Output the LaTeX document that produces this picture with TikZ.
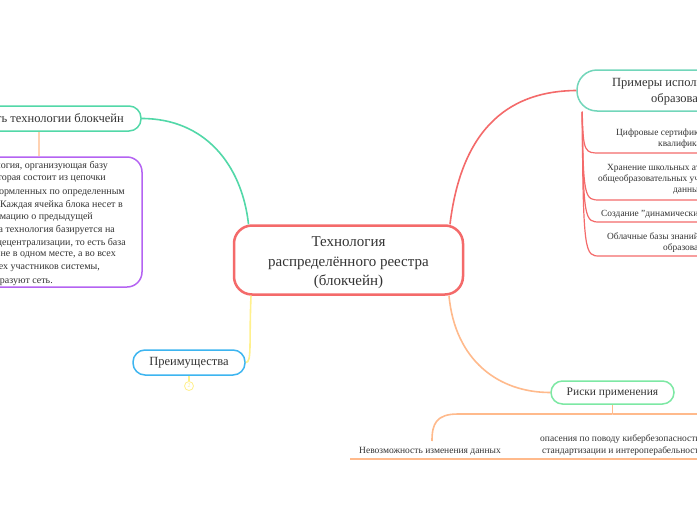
\documentclass[tikz,border=0pt]{standalone}
\usepackage{fontspec}
\setmainfont{Liberation Serif}
\definecolor{cred}{HTML}{F46A6A}
\definecolor{cgreen}{HTML}{52D8A8}
\definecolor{cteal}{HTML}{72D6BA}
\definecolor{cpurple}{HTML}{B463F2}
\definecolor{cpeach}{HTML}{FFD2B2}
\definecolor{corange}{HTML}{FFBA8C}
\definecolor{cyellow}{HTML}{FFF08C}
\definecolor{cblue}{HTML}{3DB5F0}
\definecolor{cmint}{HTML}{7DE8A4}
\definecolor{ctext}{HTML}{333333}
\begin{document}
\begin{tikzpicture}[x=1pt,y=-1pt,
  every node/.style={text=ctext, inner sep=0pt},
  boxn/.style={draw=#1, line width=1.5pt, fill=white, rounded corners=12pt},
  conn/.style={draw=#1, line width=1.6pt},
  big/.style={font=\fontsize{12.5}{15.5}\selectfont},
  small/.style={font=\fontsize{10}{12}\selectfont},
  item/.style={font=\fontsize{9.4}{11}\selectfont},
  sub/.style={font=\fontsize{9.5}{11.5}\selectfont}]
\useasboundingbox[fill=white] (0,0) rectangle (697,520);

% central node
\node[draw=cred, line width=2.5pt, fill=white, rounded corners=18pt, minimum width=229pt, minimum height=69pt] (c) at (348.5,260) {};
\node[align=center, font=\fontsize{15}{19.5}\selectfont] (ct) at (348.5,263) {Технология\\распределённого реестра\\(блокчейн)};

% top-left topic
\node[boxn=cgreen, minimum width=231pt, minimum height=25pt] (s) at (25.5,118.5) {};
\node[big, anchor=east] (st) at (124,119.5) {Сущность технологии блокчейн};

% purple description box
\node[boxn=cpurple, rounded corners=15pt, minimum width=292pt, minimum height=130pt] (p) at (-4,222) {};
\node[small, anchor=east] (p1) at (108,166) {Блокчейн — это технология, организующая базу};
\node[small, anchor=east] (p2) at (106,179) {данных, которая состоит из цепочки};
\node[small, anchor=east] (p3) at (125,192) {блоков, оформленных по определенным};
\node[small, anchor=east] (p4) at (123,204.5) {правилам. Каждая ячейка блока несет в};
\node[small, anchor=east] (p5) at (93,217) {себе информацию о предыдущей};
\node[small, anchor=east] (p6) at (115,230) {блоке. Эта технология базируется на};
\node[small, anchor=east] (p7) at (126,242.5) {принципе децентрализации, то есть база};
\node[small, anchor=east] (p8) at (116,255) {хранится не в одном месте, а во всех};
\node[small, anchor=east] (p9) at (100,268) {компьютерах всех участников системы,};
\node[small, anchor=east] (p10) at (53,280.5) {которые образуют сеть.};

\draw[conn=cpeach] ([xshift=13.5pt]s.south) -- ([xshift=43pt]p.north);
\draw[conn=cgreen] (s.east) .. controls (205,118.5) and (242,165) .. ([xshift=-100pt]c.north);

% examples topic
\node[boxn=cteal, rounded corners=20pt, minimum width=243pt, minimum height=41pt] (pr) at (698.5,90.5) {};
\node[big, anchor=west] (pr1) at (612,84) {Примеры использования в};
\node[big, anchor=west] (pr2) at (651,99) {образовании};
\draw[conn=cred] ([xshift=101.5pt]c.north) .. controls (462,125) and (512,91) .. (pr.west);

% example items
\draw[conn=cred, line width=1.2pt] ([xshift=6pt]pr.south west) .. controls (583,153) and (585,153) .. (600,153) -- (700,153);
\draw[conn=cred, line width=1.2pt] ([xshift=6pt]pr.south west) .. controls (583,200) and (585,200) .. (600,200) -- (700,200);
\draw[conn=cred, line width=1.2pt] ([xshift=6pt]pr.south west) .. controls (583,222) and (585,222) .. (600,222) -- (700,222);
\draw[conn=cred, line width=1.2pt] ([xshift=6pt]pr.south west) .. controls (583,256) and (585,256) .. (600,256) -- (700,256);
\node[item, anchor=west] (i1a) at (616,133) {Цифровые сертификаты о};
\node[item, anchor=west] (i1b) at (658,144.5) {квалификации};
\node[item, anchor=west] (i2a) at (607,168) {Хранение школьных аттестатов};
\node[item, anchor=west] (i2b) at (598,179.5) {общеобразовательных учреждений в};
\node[item, anchor=west] (i2c) at (673,191) {данных};
\node[item, anchor=west] (i3) at (601,214) {Создание "динамических портфолио"};
\node[item, anchor=west] (i4a) at (607,237) {Облачные базы знаний для};
\node[item, anchor=west] (i4b) at (663,248) {образования};

% advantages
\node[boxn=cblue, minimum width=112pt, minimum height=25pt, big] (pm) at (189,362.5) {Преимущества};
\node[circle, draw=cyellow, line width=0.8pt, minimum size=9pt, text=cyellow, font=\fontsize{6}{6}\selectfont] (n2) at (189,386) {2};
\draw[conn=cyellow] ([xshift=-97.5pt]c.south) .. controls (249,345) and (252,362.5) .. (pm.east);
\draw[conn=cyellow, line width=1.2pt] (pm.south) -- (n2.north);

% risks
\node[boxn=cmint, rounded corners=11.5pt, minimum width=123pt, minimum height=23pt, font=\fontsize{11.5}{14}\selectfont] (rk) at (612.5,392.5) {Риски применения};
\draw[conn=corange] ([xshift=100.5pt]c.south) .. controls (455,360) and (498,392.5) .. (rk.west);
\coordinate (j) at (612.5,414);
\draw[conn=corange] (rk.south) -- (j);
\draw[conn=corange] (j) -- (458,414) .. controls (436,414) and (432,424) .. (432,441);
\draw[conn=corange] (j) -- (700,414);
\draw[conn=corange] (350,459) -- (700,459);
\node[sub, anchor=west] (nv) at (359,451) {Невозможность изменения данных};
\node[sub, anchor=west] (op1) at (540,439) {опасения по поводу кибербезопасности,};
\node[sub, anchor=west] (op2) at (542,451) {стандартизации и интероперабельности};
\end{tikzpicture}
\end{document}
